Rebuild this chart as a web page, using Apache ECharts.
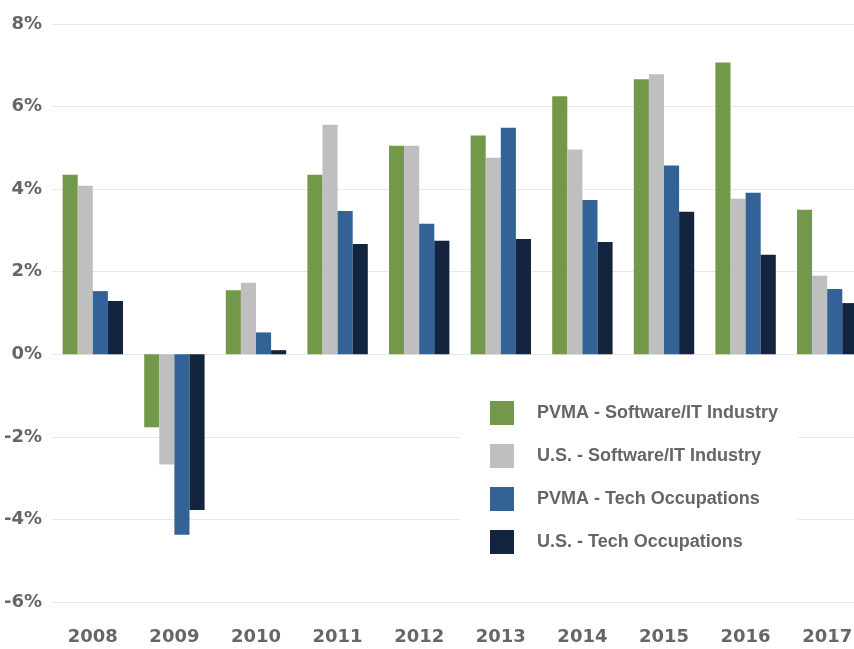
<!DOCTYPE html>
<html>
<head>
<meta charset="UTF-8">
<title>Growth</title>
<style>
  html, body { margin: 0; padding: 0; background: #fff; overflow: hidden; }
  #main { width: 870px; height: 649px; }
</style>
<script src="https://cdn.jsdelivr.net/npm/echarts@6/dist/echarts.min.js"></script>
</head>
<body>
<div id="main"></div>
<script>
var years = ['2008', '2009', '2010', '2011', '2012', '2013', '2014', '2015', '2016', '2017'];
var pvmaSoftware = [4.35, -1.77, 1.55, 4.35, 5.05, 5.3, 6.25, 6.66, 7.07, 3.5];
var usSoftware = [4.08, -2.67, 1.73, 5.56, 5.05, 4.76, 4.96, 6.78, 3.77, 1.9];
var pvmaTech = [1.53, -4.37, 0.53, 3.47, 3.16, 5.49, 3.74, 4.57, 3.91, 1.58];
var usTech = [1.29, -3.77, 0.1, 2.67, 2.75, 2.79, 2.72, 3.45, 2.41, 1.24];

var names = ['PVMA - Software/IT Industry', 'U.S. - Software/IT Industry', 'PVMA - Tech Occupations', 'U.S. - Tech Occupations'];
var colors = ['#739849', '#bfbfbf', '#336296', '#13243f'];
var values = [pvmaSoftware, usSoftware, pvmaTech, usTech];

var myChart = echarts.init(document.getElementById('main'));

var series = [];
for (var i = 0; i < names.length; i++) {
    series.push({
        name: names[i],
        type: 'bar',
        data: values[i],
        barGap: '0%',
        barCategoryGap: '26%',
        itemStyle: { color: colors[i] }
    });
}

var option = {
    animation: false,
    color: colors,
    grid: { left: 52, right: 2, top: 24, bottom: 47 },
    legend: {
        orient: 'vertical',
        left: 460,
        top: 385,
        padding: [16, 20, 17, 30],
        backgroundColor: '#fff',
        itemWidth: 24,
        itemHeight: 24,
        itemGap: 19,
        icon: 'rect',
        textStyle: {
            color: '#666',
            fontWeight: 'bold',
            fontSize: 18,
            fontFamily: 'Liberation Sans',
            padding: [0, 0, 0, 18]
        },
        data: names
    },
    xAxis: {
        type: 'category',
        data: years,
        axisLine: { show: false },
        axisTick: { show: false },
        axisLabel: {
            color: '#666',
            fontWeight: 'bold',
            fontSize: 18,
            fontFamily: 'DejaVu Sans',
            margin: 26
        }
    },
    yAxis: {
        type: 'value',
        min: -6,
        max: 8,
        interval: 2,
        axisLine: { show: false },
        axisTick: { show: false },
        axisLabel: {
            color: '#666',
            fontWeight: 'bold',
            fontSize: 18,
            fontFamily: 'DejaVu Sans',
            margin: 10,
            formatter: '{value}%'
        },
        splitLine: { lineStyle: { color: '#e8e8e8', width: 1 } }
    },
    series: series
};
myChart.setOption(option);
</script>
</body>
</html>
